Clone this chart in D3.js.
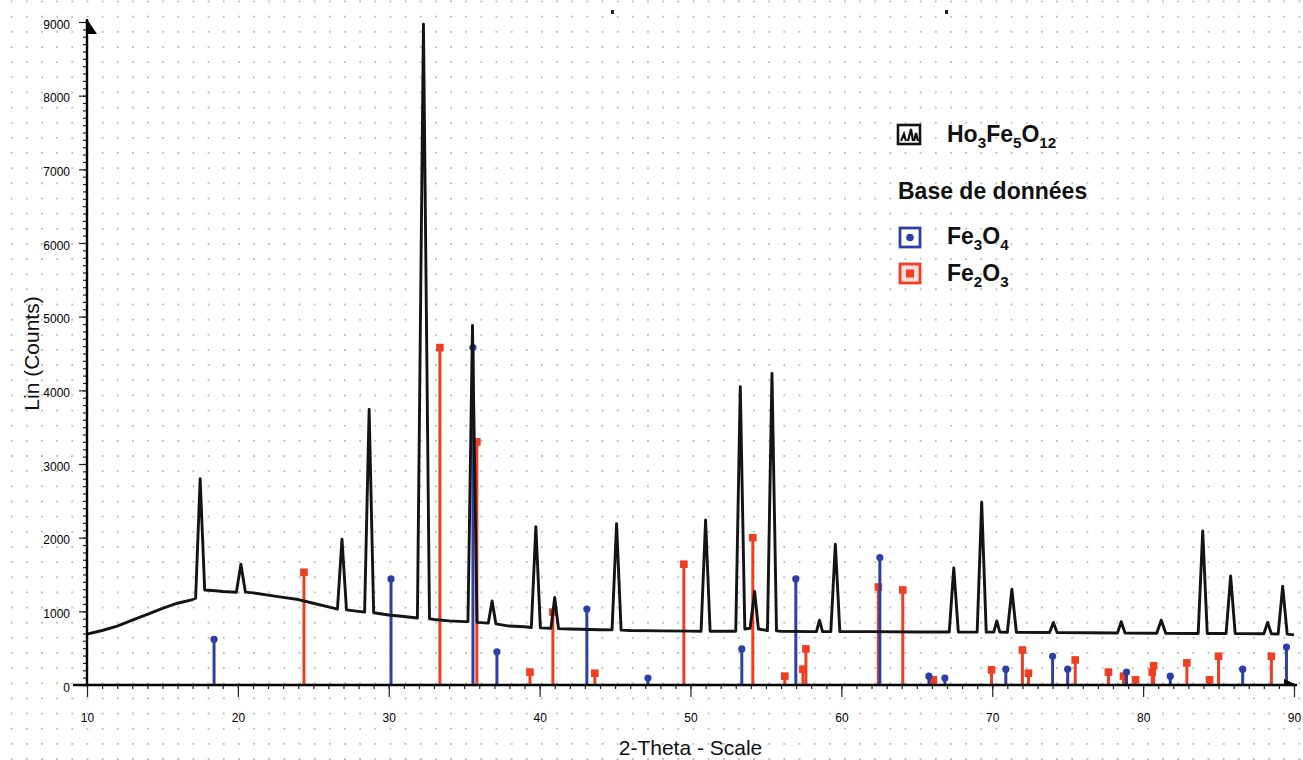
<!DOCTYPE html>
<html><head><meta charset="utf-8">
<script src="https://cdn.jsdelivr.net/npm/d3@7"></script>
<style>
body{margin:0;background:#fff}
svg{display:block}
text{font-family:"Liberation Sans",Arial,Helvetica,sans-serif}
</style>
</head><body>
<svg id="chart" width="1303" height="760"></svg>
<script>
// ---------------- data ----------------
const xTickLabels = [10,20,30,40,50,60,70,80,90];
const yTickLabels = [0,1000,2000,3000,4000,5000,6000,7000,8000,9000];
const xTitle = "2-Theta - Scale";
const yTitle = "Lin (Counts)";

// measured pattern Ho3Fe5O12 : [2theta, counts]
const trace = [
 [10,690],[11,740],[12,800],[13,880],[14,960],[15,1040],[16,1110],[17,1160],
 [17.2,1180],[17.5,2800],[17.8,1290],
 [18.5,1280],[19,1270],[19.9,1260],[20.2,1640],[20.5,1260],
 [21,1250],[22,1220],[23,1190],[24,1160],[25,1110],[26,1060],
 [26.6,1030],[26.9,1980],[27.2,1020],
 [28.4,990],[28.7,3740],[29.0,980],
 [30,950],[31,930],[31.9,910],[32.3,8970],[32.7,900],
 [33,890],[34,870],[35,860],[35.25,860],[35.55,4880],[35.85,850],
 [36.6,840],[36.85,1140],[37.1,830],
 [38,800],[39,790],[39.45,780],[39.75,2150],[40.05,775],
 [40.75,770],[41.0,1190],[41.25,765],
 [42,760],[44,750],[44.8,748],[45.1,2190],[45.4,745],
 [46,740],[48,735],[50,732],[50.7,730],[51.0,2240],[51.3,730],
 [52,730],[53.0,730],[53.3,4050],[53.6,760],[53.95,770],[54.25,1270],[54.5,760],
 [55.1,740],[55.4,4230],[55.7,735],
 [56,730],[58,725],[58.35,725],[58.55,880],[58.75,725],[59.3,725],[59.6,1910],[59.9,725],
 [62,725],[65,720],[67.15,720],[67.45,1590],[67.75,720],
 [69.0,718],[69.3,2480],[69.6,718],[70.1,718],[70.3,870],[70.5,718],
 [71.0,716],[71.3,1300],[71.6,716],
 [73.8,712],[74.05,850],[74.3,712],
 [78.3,705],[78.55,860],[78.8,705],
 [80.9,703],[81.2,880],[81.5,703],
 [83.65,700],[83.95,2090],[84.25,700],
 [85.5,700],[85.8,1480],[86.1,700],
 [88.0,695],[88.25,850],[88.5,695],
 [88.95,693],[89.25,1340],[89.55,690],[90,680]
];

// reference database sticks
const fe3o4Pos = [18.42,30.15,35.58,37.17,43.13,47.18,53.4,56.98,62.55,65.8,66.86,70.9,74.0,75.0,78.9,81.8,86.6,89.5];
const fe3o4Int = [620,1440,4580,450,1030,95,490,1440,1730,120,95,215,390,215,175,120,215,515];
const fe2o3Pos = [24.38,33.39,35.84,39.36,40.88,43.66,49.56,54.13,56.25,57.45,57.65,62.45,64.07,66.1,69.95,72.0,72.4,75.5,77.7,78.7,79.5,80.6,80.7,82.9,84.4,85.0,88.5];
const fe2o3Int = [1530,4580,3300,175,990,160,1640,2000,120,215,490,1330,1290,70,205,475,160,340,175,120,70,175,260,300,70,390,390];

const legendSample = ["Ho", "3", "Fe", "5", "O", "12"];
const legendHeader = "Base de données";
const legendFe3o4 = ["Fe", "3", "O", "4"];
const legendFe2o3 = ["Fe", "2", "O", "3"];

// ---------------- drawing ----------------
const blue = "#2d3fa6", red = "#ef3e22";
const svg = d3.select("#chart");
const defs = svg.append("defs");
const pat = defs.append("pattern").attr("id","dots").attr("patternUnits","userSpaceOnUse")
  .attr("width",15.15).attr("height",15.15).attr("x",4.1).attr("y",9.1);
pat.append("circle").attr("cx",7.575).attr("cy",7.575).attr("r",0.95).attr("fill","#a9a9a9");
svg.append("rect").attr("width",1303).attr("height",760).attr("fill","#fff");
svg.append("rect").attr("width",1303).attr("height",760).attr("fill","url(#dots)");

const x = d3.scaleLinear().domain([10,90]).range([87,1294]);
const y = d3.scaleLinear().domain([0,9000]).range([685,22]);

// stray marks at top of the scan
svg.append("rect").attr("x",611).attr("y",10).attr("width",3).attr("height",4).attr("fill","#222");
svg.append("rect").attr("x",945).attr("y",10).attr("width",3).attr("height",4).attr("fill","#222");

// sticks
function sticks(pos, ints, color, marker){
  const data = pos.map((p,i)=>({p, v:ints[i]}));
  const g = svg.append("g");
  g.selectAll("line").data(data).join("line")
    .attr("x1",d=>x(d.p)).attr("x2",d=>x(d.p))
    .attr("y1",y(0)).attr("y2",d=>y(d.v))
    .attr("stroke",color).attr("stroke-width",3);
  if(marker==="circle"){
    g.selectAll("circle").data(data).join("circle")
      .attr("cx",d=>x(d.p)).attr("cy",d=>y(d.v)).attr("r",3.6).attr("fill",color);
  } else {
    g.selectAll("rect").data(data).join("rect")
      .attr("x",d=>x(d.p)-3.8).attr("y",d=>y(d.v)-3.8).attr("width",7.6).attr("height",7.6).attr("fill",color);
  }
}
sticks(fe2o3Pos, fe2o3Int, red, "square");
sticks(fe3o4Pos, fe3o4Int, blue, "circle");

// trace
const line = d3.line().x(d=>x(d[0])).y(d=>y(d[1]));
svg.append("path").datum(trace).attr("d",line)
  .attr("fill","none").attr("stroke","#141414").attr("stroke-width",2.9).attr("stroke-linejoin","round");

// axes
const gx = svg.append("g").attr("transform",`translate(0,${y(0)})`);
gx.call(d3.axisBottom(x).tickValues(d3.range(10,91,1)).tickSize(4).tickFormat(""));
gx.call(g=>g.select(".domain").remove());
const gx2 = svg.append("g").attr("transform",`translate(0,${y(0)})`);
gx2.call(d3.axisBottom(x).tickValues(xTickLabels).tickSize(12).tickPadding(16).tickFormat(d3.format("d")));
gx2.select(".domain").remove();
gx2.selectAll("text").attr("font-size",12).attr("fill","#000");
svg.selectAll(".tick line").attr("stroke","#222").attr("stroke-width",1.2);

const gy = svg.append("g").attr("transform",`translate(${x(10)},0)`);
gy.call(d3.axisLeft(y).tickValues(d3.range(0,9001,100)).tickSize(4).tickFormat(""));
gy.select(".domain").remove();
const gy2 = svg.append("g").attr("transform",`translate(${x(10)},0)`);
gy2.call(d3.axisLeft(y).tickValues(yTickLabels).tickSize(8).tickPadding(9).tickFormat(d3.format("d")));
gy2.select(".domain").remove();
gy2.selectAll("text").attr("font-size",12).attr("fill","#000").attr("dy","0.5em");
svg.selectAll(".tick line").attr("stroke","#222").attr("stroke-width",1.2);

// axis lines and arrows
svg.append("line").attr("x1",73).attr("x2",1297).attr("y1",y(0)).attr("y2",y(0)).attr("stroke","#000").attr("stroke-width",2.4);
svg.append("line").attr("x1",x(10)).attr("x2",x(10)).attr("y1",y(0)).attr("y2",y(9000)-3).attr("stroke","#000").attr("stroke-width",2.4);
svg.append("path").attr("d",`M${x(10)},${y(9000)-3}L${x(10)+10},${y(9000)+12}L${x(10)},${y(9000)+12}Z`).attr("fill","#000");
svg.append("path").attr("d",`M${x(90)-10},${y(0)-6}L${x(90)+3},${y(0)}L${x(90)-10},${y(0)}Z`).attr("fill","#000");

// titles
svg.append("text").attr("x",(x(10)+x(90))/2).attr("y",755).attr("text-anchor","middle")
  .attr("font-size",21).attr("fill","#111").text(xTitle);
svg.append("text").attr("transform",`translate(39,${(y(0)+y(9000))/2}) rotate(-90)`).attr("text-anchor","middle")
  .attr("font-size",21).attr("fill","#111").text(yTitle);

// legend
function formula(parts, tx, ty, size){
  const t = svg.append("text").attr("x",tx).attr("y",ty).attr("font-size",size).attr("font-weight","bold").attr("fill","#111");
  parts.forEach((p,i)=>{
    const sub = i%2===1;
    t.append("tspan").attr("font-size",sub?size*0.66:size).attr("dy",sub?6:(i>0?-6:0)).text(p);
  });
}
// sample icon
const ig = svg.append("g").attr("transform","translate(898,125)");
ig.append("rect").attr("x",0).attr("y",0).attr("width",22).attr("height",19).attr("fill","#fff").attr("stroke","#111").attr("stroke-width",2.6);
ig.append("path").attr("d","M3,16L6,9L8,16M10,16L13,4L15,16M16,16L18,8L20,16").attr("fill","none").attr("stroke","#111").attr("stroke-width",2.2);
formula(legendSample, 947, 142, 23);
svg.append("text").attr("x",898).attr("y",199).attr("font-size",23).attr("font-weight","bold").attr("fill","#111").text(legendHeader);
// Fe3O4
svg.append("rect").attr("x",900).attr("y",228).attr("width",20).attr("height",19).attr("fill","#fff").attr("stroke",blue).attr("stroke-width",2.8);
svg.append("circle").attr("cx",910).attr("cy",237.5).attr("r",3.8).attr("fill",blue);
formula(legendFe3o4, 947, 244, 23);
// Fe2O3
svg.append("rect").attr("x",900).attr("y",264).attr("width",20).attr("height",19).attr("fill","#fdd").attr("stroke",red).attr("stroke-width",2.8);
svg.append("rect").attr("x",906).attr("y",269.5).attr("width",8).attr("height",8).attr("fill",red);
formula(legendFe2o3, 947, 281, 23);
</script>
</body></html>
